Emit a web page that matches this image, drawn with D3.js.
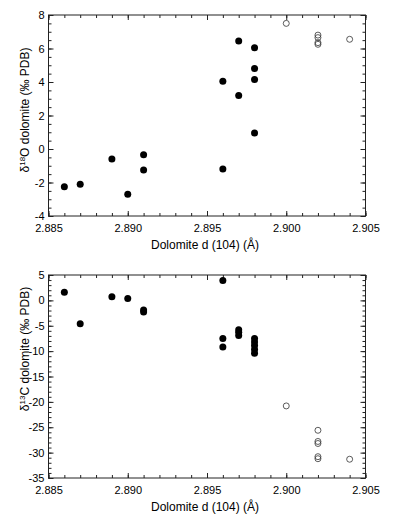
<!DOCTYPE html>
<html>
<head>
<meta charset="utf-8">
<script src="https://cdn.jsdelivr.net/npm/d3@7"></script>
<style>
body { margin: 0; background: #fff; }
text { font-family: "Liberation Sans", Arial, sans-serif; }
</style>
</head>
<body>
<svg width="398" height="520"></svg>
<script>
var xTicks = [2.885, 2.890, 2.895, 2.900, 2.905];
var o18Ticks = [-4, -2, 0, 2, 4, 6, 8];
var c13Ticks = [-35, -30, -25, -20, -15, -10, -5, 0, 5];

// delta 18O panel
var o18FilledD = [2.886, 2.887, 2.889, 2.890, 2.891, 2.891, 2.896, 2.896, 2.897, 2.897, 2.898, 2.898, 2.898, 2.898];
var o18FilledV = [-2.25, -2.1, -0.6, -2.7, -0.35, -1.25, 4.05, -1.2, 6.45, 3.2, 6.05, 4.8, 4.15, 0.95];
var o18OpenD = [2.900, 2.902, 2.902, 2.902, 2.902, 2.904];
var o18OpenV = [7.5, 6.8, 6.65, 6.35, 6.25, 6.55];

// delta 13C panel
var c13FilledD = [2.886, 2.887, 2.889, 2.890, 2.891, 2.891, 2.896, 2.896, 2.896, 2.897, 2.897, 2.897, 2.898, 2.898, 2.898, 2.898, 2.898];
var c13FilledV = [1.6, -4.6, 0.7, 0.35, -1.9, -2.3, 3.9, -7.5, -9.2, -5.8, -6.3, -6.9, -7.5, -8.2, -8.9, -9.7, -10.4];
var c13OpenD = [2.900, 2.902, 2.902, 2.902, 2.902, 2.902, 2.904];
var c13OpenV = [-20.8, -25.6, -27.8, -28.2, -30.8, -31.2, -31.3];

var svg = d3.select("svg");
var left = 48.5, right = 365.5;

function panel(top, bottom, yTicks, minorCount, fD, fV, oD, oV, iso, labelY) {
    var x = d3.scaleLinear().domain([xTicks[0], xTicks[xTicks.length - 1]]).range([left, right]);
    var y = d3.scaleLinear().domain([yTicks[0], yTicks[yTicks.length - 1]]).range([bottom, top]);
    var g = svg.append("g");

    function style(a) {
        a.attr("font-size", 11).attr("font-family", null);
        a.select(".domain").remove();
        a.selectAll("line").attr("stroke", "#222");
        a.selectAll("text").attr("fill", "#000");
    }

    // minor ticks
    g.append("g").attr("transform", "translate(0," + bottom + ")")
        .call(d3.axisBottom(x).ticks(20).tickSize(-3).tickFormat("")).call(style);
    g.append("g").attr("transform", "translate(0," + top + ")")
        .call(d3.axisTop(x).ticks(20).tickSize(-3).tickFormat("")).call(style);
    g.append("g").attr("transform", "translate(" + left + ",0)")
        .call(d3.axisLeft(y).ticks(minorCount).tickSize(-3).tickFormat("")).call(style);
    g.append("g").attr("transform", "translate(" + right + ",0)")
        .call(d3.axisRight(y).ticks(minorCount).tickSize(-3).tickFormat("")).call(style);

    // major ticks
    g.append("g").attr("transform", "translate(0," + bottom + ")")
        .call(d3.axisBottom(x).tickValues(xTicks).tickSize(-5).tickPadding(8).tickFormat(d3.format(".3f"))).call(style);
    g.append("g").attr("transform", "translate(0," + top + ")")
        .call(d3.axisTop(x).tickValues(xTicks).tickSize(-5).tickFormat("")).call(style);
    g.append("g").attr("transform", "translate(" + left + ",0)")
        .call(d3.axisLeft(y).tickValues(yTicks).tickSize(-5).tickPadding(4).tickFormat(function (d) { return String(d); })).call(style);
    g.append("g").attr("transform", "translate(" + right + ",0)")
        .call(d3.axisRight(y).tickValues(yTicks).tickSize(-5).tickFormat("")).call(style);

    g.append("rect")
        .attr("x", left).attr("y", top)
        .attr("width", right - left).attr("height", bottom - top)
        .attr("fill", "none").attr("stroke", "#222").attr("stroke-width", 1);

    g.selectAll(".filled").data(fD).enter().append("circle")
        .attr("cx", function (d) { return x(d); })
        .attr("cy", function (d, i) { return y(fV[i]); })
        .attr("r", 3.5).attr("fill", "#000");

    g.selectAll(".open").data(oD).enter().append("circle")
        .attr("cx", function (d) { return x(d); })
        .attr("cy", function (d, i) { return y(oV[i]); })
        .attr("r", 3).attr("fill", "none").attr("stroke", "#333").attr("stroke-width", 0.8);

    g.append("text")
        .attr("x", 205).attr("y", bottom + 33)
        .attr("text-anchor", "middle").attr("font-size", 12)
        .text("Dolomite d (104) (Å)");

    var t = g.append("text")
        .attr("transform", "translate(29," + labelY + ") rotate(-90)")
        .attr("text-anchor", "middle").attr("font-size", 12);
    t.append("tspan").text("δ");
    t.append("tspan").attr("font-size", 8).attr("dy", -4).text(iso[0]);
    t.append("tspan").attr("dy", 4).text(iso[1] + " dolomite (‰ PDB)");
}

panel(15, 216, o18Ticks, 24, o18FilledD, o18FilledV, o18OpenD, o18OpenV, ["18", "O"], 110);
panel(275, 478, c13Ticks, 40, c13FilledD, c13FilledV, c13OpenD, c13OpenV, ["13", "C"], 349);
</script>
</body>
</html>
